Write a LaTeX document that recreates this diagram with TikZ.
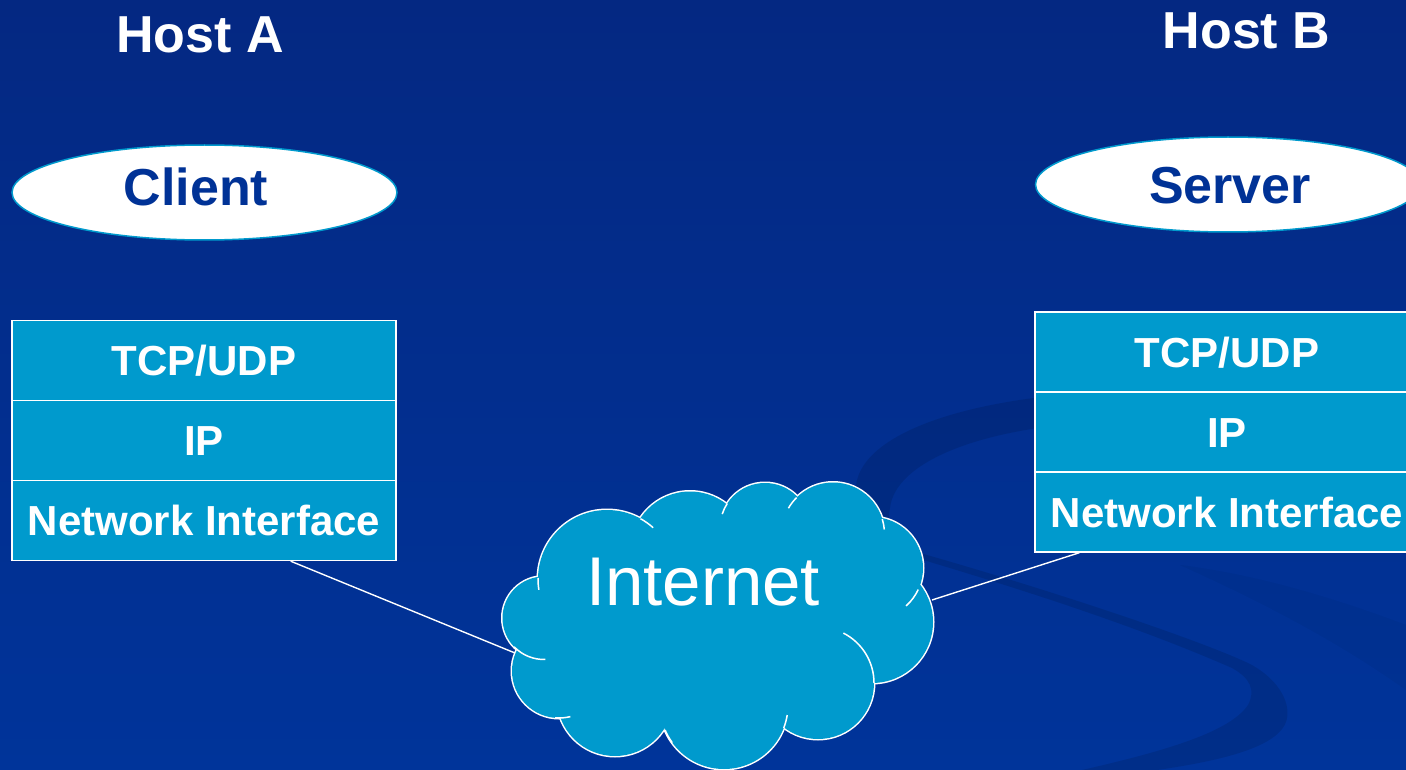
\documentclass[tikz,border=0pt]{standalone}
\usepackage{fontspec}
\setmainfont{Liberation Sans}
\usetikzlibrary{shapes.geometric,calc}
\definecolor{bgtop}{RGB}{4,40,130}
\definecolor{bgbot}{RGB}{0,52,154}
\definecolor{layer}{RGB}{0,154,205}
\definecolor{deepblue}{RGB}{0,50,150}

\begin{document}
\begin{tikzpicture}[x=1pt,y=-1pt,
  hosttext/.style={font=\fontsize{52}{60}\selectfont\bfseries, text=white, anchor=base, inner sep=0pt},
  rolebox/.style={ellipse, draw=layer, line width=1.5pt, fill=white,
                  minimum width=385pt, minimum height=95pt, inner sep=0pt},
  roletext/.style={font=\fontsize{52}{60}\selectfont\bfseries, text=deepblue, anchor=base, inner sep=0pt},
  layerbox/.style={rectangle, draw=white, line width=1.4pt, fill=layer,
                   minimum width=384pt, minimum height=80pt, inner sep=0pt,
                   font=\fontsize{42}{50}\selectfont\bfseries, text=white,
                   text height=30pt, text depth=0pt},
  link/.style={draw=white, line width=1.4pt},
  puff/.style={white, line width=3pt},
  tail/.style={white, line width=1.5pt},
]
\useasboundingbox (0,0) rectangle (1406,770);
\clip (0,0) rectangle (1406,770);

% backdrop
\shade[top color=bgtop, bottom color=bgbot] (0,0) rectangle (1406,770);

% dark swoosh: wide arc on the left, thin stroke, crescent at the end
\fill[black, opacity=0.11]
  (1100,392) .. controls (950,400) and (850,440) .. (856,495)
  .. controls (860,530) and (890,545) .. (920,553)
  .. controls (1050,590) and (1200,640) .. (1250,664)
  .. controls (1280,680) and (1292,705) .. (1286,722)
  .. controls (1275,752) and (1200,765) .. (1120,775)
  -- (1060,775)
  .. controls (1150,755) and (1228,735) .. (1248,705)
  .. controls (1256,690) and (1250,678) .. (1232,668)
  .. controls (1150,632) and (1050,598) .. (930,562)
  .. controls (895,550) and (885,530) .. (890,508)
  .. controls (895,462) and (980,428) .. (1100,422) -- cycle;
\fill[black, opacity=0.04]
  (1180,565) .. controls (1260,575) and (1340,600) .. (1406,625)
  -- (1406,690) .. controls (1350,650) and (1280,610) .. (1180,565) -- cycle;

% hosts
\node[hosttext] (hostA) at (200,53) {Host A};
\node[hosttext] (hostB) at (1246.5,49) {Host B};

% application processes
\node[rolebox] (client) at (204.5,192.5) {};
\node[roletext] (clientlbl) at (196,206) {Client};
\node[rolebox] (server) at (1228,184.5) {};
\node[roletext] (serverlbl) at (1230,204) {Server};

% protocol stacks
\node[layerbox] (ltcp) at (204,360.5) {TCP/UDP};
\node[layerbox] (lip)  at (204,440.5) {IP};
\node[layerbox] (lni)  at (204,520.5) {Network Interface};

\node[layerbox] (rtcp) at (1227,352) {TCP/UDP};
\node[layerbox] (rip)  at (1227,432) {IP};
\node[layerbox] (rni)  at (1227,512) {Network Interface};

% attachment points on the cloud rim
\coordinate (cloudW) at (515,653);
\coordinate (cloudE) at (932,600);

% links into the internet
\draw[link] ($(lni.south west)!0.725!(lni.south east)$) -- (cloudW);
\draw[link] ($(rni.south west)!0.117!(rni.south east)$) -- (cloudE);

% internet cloud: outer rim, then filled puffs on top of it
\foreach \cx/\cy/\r in {544/618/41.5, 607/579/69, 690/551/59.5, 765/528/45,
                        833/534/51.5, 872/568/51, 872/622/61, 818/683/56,
                        724/705/64, 615/698/58, 559/671/47}
  \draw[puff] (\cx,\cy) circle[radius=\r];
\fill[layer] (544,618) -- (607,579) -- (690,551) -- (765,528) -- (833,534)
  -- (872,568) -- (872,622) -- (818,683) -- (724,705) -- (615,698)
  -- (559,671) -- cycle;
\foreach \cx/\cy/\r in {544/618/41.5, 607/579/69, 690/551/59.5, 765/528/45,
                        833/534/51.5, 872/568/51, 872/622/61, 818/683/56,
                        724/705/64, 615/698/58, 559/671/47}
  \fill[layer] (\cx,\cy) circle[radius=\r];
% inner ends of the puff arcs
\foreach \cx/\cy/\r/\a/\b in {607/579/69/171/181, 607/579/69/-61/-48,
                              765/528/45/-162/-147, 833/534/51.5/-150/-135,
                              833/534/51.5/-17/-5, 872/568/51/25/48,
                              818/683/56/-63/0, 724/705/64/9/21,
                              724/705/64/144/157, 559/671/47/76/95,
                              544/618/41.5/88/136}
  \draw[tail] (\cx,\cy) ++(\a:\r) arc[start angle=\a, end angle=\b, radius=\r];

\node[font=\fontsize{69}{80}\selectfont, text=white, anchor=base, inner sep=0pt]
  (inet) at (703,605) {Internet};
\end{tikzpicture}
\end{document}
